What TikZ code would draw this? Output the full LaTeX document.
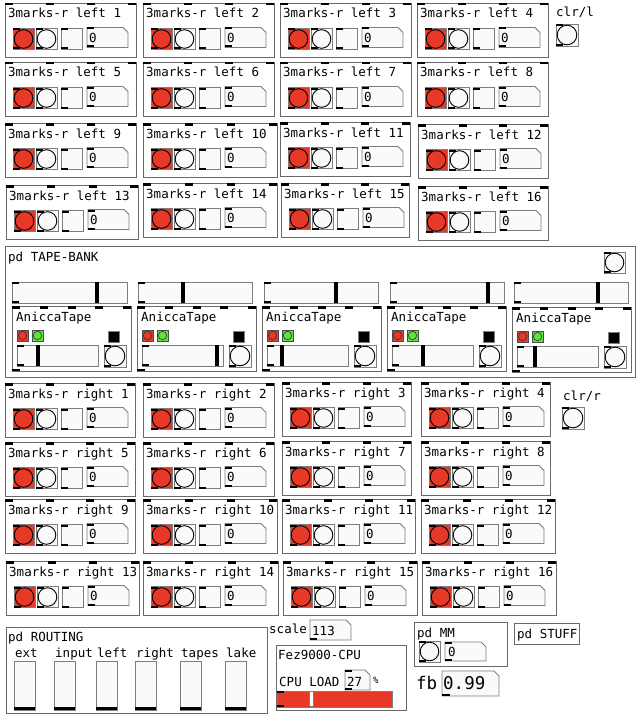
\documentclass[tikz,border=0pt]{standalone}
\usepackage{fontspec}
\setmonofont{DejaVu Sans Mono}
\definecolor{pdred}{RGB}{232,56,40}
\definecolor{pdgreen}{RGB}{96,228,60}
\definecolor{boxc}{RGB}{105,105,105}
\definecolor{wbc}{RGB}{125,125,125}
\definecolor{wfill}{RGB}{250,250,250}
\tikzset{
  boxln/.style={draw=boxc, line width=0.9pt},
  wid/.style={draw=wbc, line width=0.8pt, fill=wfill},
  lbl/.style={anchor=base west, inner sep=0pt, font=\ttfamily\fontsize{12.5}{14}\selectfont},
  biglbl/.style={anchor=base west, inner sep=0pt, font=\ttfamily\fontsize{17.5}{20}\selectfont},
  smalllbl/.style={anchor=base west, inner sep=0pt, font=\ttfamily\fontsize{9}{10}\selectfont},
  ring/.style={draw=black, line width=0.9pt},
}
% bang: x, y, size, fill
\newcommand\wbang[4]{%
 \begin{scope}[shift={(#1,#2)}]
  \path[wid, fill=#4] (0,0) rectangle (#3,#3);
  \draw[ring] (#3/2,#3/2) circle [radius={#3/2-1.2}];
  \fill (0,0) rectangle (7,2);
  \fill (0,#3-2) rectangle (7,#3);
 \end{scope}}
% small bang: x, y, fill
\newcommand\sbang[3]{%
 \begin{scope}[shift={(#1,#2)}]
  \path[draw=black!70, line width=0.7pt, fill=#3] (0,0) rectangle (11,11);
  \draw[black!80, line width=0.6pt] (5.5,5.5) circle [radius=4.2];
 \end{scope}}
% number box outline: x, y, w, h
\newcommand\numframe[4]{%
  \path[wid] (#1,#2) -- ++(#3-5,0) -- ++(5,5) -- ++(0,#4-5) -- ++(-#3,0) -- cycle;}
% horizontal slider: x, y, w, h, handle x (relative)
\newcommand\hslider[5]{%
 \begin{scope}[shift={(#1,#2)}]
  \path[wid] (0,0) rectangle (#3,#4);
  \fill (0,0) rectangle (7,2); \fill (0,#4-2) rectangle (7,#4);
  \fill (#5-1.6,0) rectangle (#5+1.6,#4);
 \end{scope}}
% 3marks abstraction: x, y, w, label, name
\newcommand\pdmarks[5]{%
 \begin{scope}[shift={(#1,#2)}]
  \path[boxln, fill=white] (0,0) rectangle (#3,54);
  \foreach \k in {0,1,2,3} {\fill ({(#3-8)*\k/3},0) rectangle ({(#3-8)*\k/3+8},2.5);}
  \node[lbl] (#5) at (3,15) {#4};
  \wbang{8}{25.5}{21}{pdred}
  \wbang{31}{25.5}{21}{wfill}
  \path[wid] (56,25.5) rectangle (77,46.5);
  \fill (56,25.5) rectangle (63,27.5); \fill (56,44.5) rectangle (63,46.5);
  \numframe{82}{24.5}{41}{20}
  \fill (82,24.5) rectangle (89,26.5); \fill (82,42.5) rectangle (89,44.5);
  \node[lbl] (#5n) at (84,39.5) {0};
 \end{scope}}
% AniccaTape unit: x, y, slider handle (relative), name
\newcommand\anicca[4]{%
 \begin{scope}[shift={(#1,#2)}]
  \path[boxln, fill=white] (0,0) rectangle (119,65);
  \foreach \k in {0,...,4} {\fill ({111*\k/4},0) rectangle ({111*\k/4+8},2.5);}
  \fill (0,62.5) rectangle (8,65);
  \node[lbl] (#4) at (4,15) {AniccaTape};
  \sbang{5}{24}{pdred}
  \sbang{20}{24}{pdgreen}
  \path[draw=wbc, line width=0.7pt, fill=black] (96,25) rectangle (107,36);
  \hslider{5}{39}{81}{21}{#3}
  \wbang{92}{39}{22}{wfill}
 \end{scope}}

\begin{document}
\begin{tikzpicture}[x=1pt,y=-1pt]
\useasboundingbox (0,0) rectangle (640,725);
\fill[white] (0,0) rectangle (640,725);

% ---- left grid
\pdmarks{5}{3}{131}{3marks-r left 1}{L1}
\pdmarks{143}{3}{131}{3marks-r left 2}{L2}
\pdmarks{280}{3}{131}{3marks-r left 3}{L3}
\pdmarks{417}{3}{131}{3marks-r left 4}{L4}
\pdmarks{5}{62}{131}{3marks-r left 5}{L5}
\pdmarks{143}{62}{131}{3marks-r left 6}{L6}
\pdmarks{280}{62}{131}{3marks-r left 7}{L7}
\pdmarks{417}{62}{131}{3marks-r left 8}{L8}
\pdmarks{5}{123}{131}{3marks-r left 9}{L9}
\pdmarks{143}{123}{134}{3marks-r left 10}{L10}
\pdmarks{280}{122}{130}{3marks-r left 11}{L11}
\pdmarks{418}{124}{130}{3marks-r left 12}{L12}
\pdmarks{6}{185}{132}{3marks-r left 13}{L13}
\pdmarks{143}{183}{134}{3marks-r left 14}{L14}
\pdmarks{281}{183}{128}{3marks-r left 15}{L15}
\pdmarks{418}{186}{130}{3marks-r left 16}{L16}

\node[lbl] (clrl) at (556,17) {clr/l};
\wbang{556}{24}{22}{wfill}

% ---- tape bank
\path[boxln, fill=white] (5,246) rectangle (635,377);
\node[lbl] (tapebank) at (8,261) {pd TAPE-BANK};
\wbang{604}{252}{21}{wfill}
\hslider{12}{282}{115}{21}{85}
\hslider{138}{282}{114}{21}{45}
\hslider{264}{282}{114}{21}{72}
\hslider{390}{282}{114}{21}{98}
\hslider{514}{282}{114}{21}{84}
\anicca{12}{306}{21}{A1}
\anicca{137}{306}{75}{A2}
\anicca{262}{306}{15}{A3}
\anicca{387}{306}{31}{A4}
\anicca{512}{307}{18}{A5}

% ---- right grid
\pdmarks{5}{383}{130}{3marks-r right 1}{R1}
\pdmarks{143}{383}{131}{3marks-r right 2}{R2}
\pdmarks{282}{382}{129}{3marks-r right 3}{R3}
\pdmarks{421}{382}{129}{3marks-r right 4}{R4}
\pdmarks{5}{442}{130}{3marks-r right 5}{R5}
\pdmarks{143}{442}{131}{3marks-r right 6}{R6}
\pdmarks{282}{441}{129}{3marks-r right 7}{R7}
\pdmarks{421}{441}{129}{3marks-r right 8}{R8}
\pdmarks{5}{499}{130}{3marks-r right 9}{R9}
\pdmarks{143}{499}{134}{3marks-r right 10}{R10}
\pdmarks{282}{499}{133}{3marks-r right 11}{R11}
\pdmarks{421}{499}{134}{3marks-r right 12}{R12}
\pdmarks{6}{561}{133}{3marks-r right 13}{R13}
\pdmarks{143}{561}{135}{3marks-r right 14}{R14}
\pdmarks{283}{561}{134}{3marks-r right 15}{R15}
\pdmarks{422}{561}{134}{3marks-r right 16}{R16}

\node[lbl] (clrr) at (563,400) {clr/r};
\wbang{562}{407}{22}{wfill}

% ---- routing
\path[boxln, fill=white] (6,627) rectangle (267,713);
\node[lbl] (routing) at (8,641) {pd ROUTING};
\foreach \x/\t/\n in {14/ext/rt1, 54/input/rt2, 96/left/rt3, 135/right/rt4, 180/tapes/rt5, 225/lake/rt6} {
  \node[lbl] (\n) at (\x+1,657) {\t};
  \path[wid] (\x,661) rectangle (\x+21,710);
  \fill (\x,706.5) rectangle (\x+21,710);
}

% ---- scale
\node[lbl] (scale) at (269,633) {scale};
\numframe{310}{620}{41}{20}
\fill (310,638) rectangle (317,640);
\node[lbl] (scalev) at (312,635) {113};

% ---- CPU
\path[boxln, fill=white] (276,645) rectangle (406,710);
\node[lbl] (fez) at (278,659) {Fez9000-CPU};
\node[lbl] (cpuload) at (279,686) {CPU LOAD};
\numframe{345}{670}{25}{20}
\fill (345,670) rectangle (352,672); \fill (345,688) rectangle (352,690);
\node[lbl] (cpuv) at (347,686.5) {27};
\node[smalllbl] (pct) at (373,683) {\%};
\path[draw=wbc, line width=0.8pt, fill=pdred] (277,691) rectangle (392,707);
\path[draw=wbc, line width=0.5pt, fill=white] (309,691.5) rectangle (313,706.5);
\fill (277,691) rectangle (284,693); \fill (277,705) rectangle (284,707);

% ---- pd MM
\path[boxln, fill=white] (414,622) rectangle (507,666);
\node[lbl] (mm) at (417,637) {pd MM};
\wbang{419}{641}{21}{wfill}
\numframe{445}{642}{41}{19}
\fill (445,642) rectangle (452,644); \fill (445,659) rectangle (452,661);
\node[lbl] (mmv) at (448,656) {0};

% ---- pd STUFF
\path[boxln, fill=white] (514,623) rectangle (579,644);
\node[lbl] (stuff) at (517,638) {pd STUFF};

% ---- fb
\node[biglbl] (fb) at (416,689) {fb};
\numframe{442}{671}{57}{25}
\fill (442,694) rectangle (450,696);
\node[biglbl] (fbv) at (443,689.5) {0.99};
\end{tikzpicture}
\end{document}
